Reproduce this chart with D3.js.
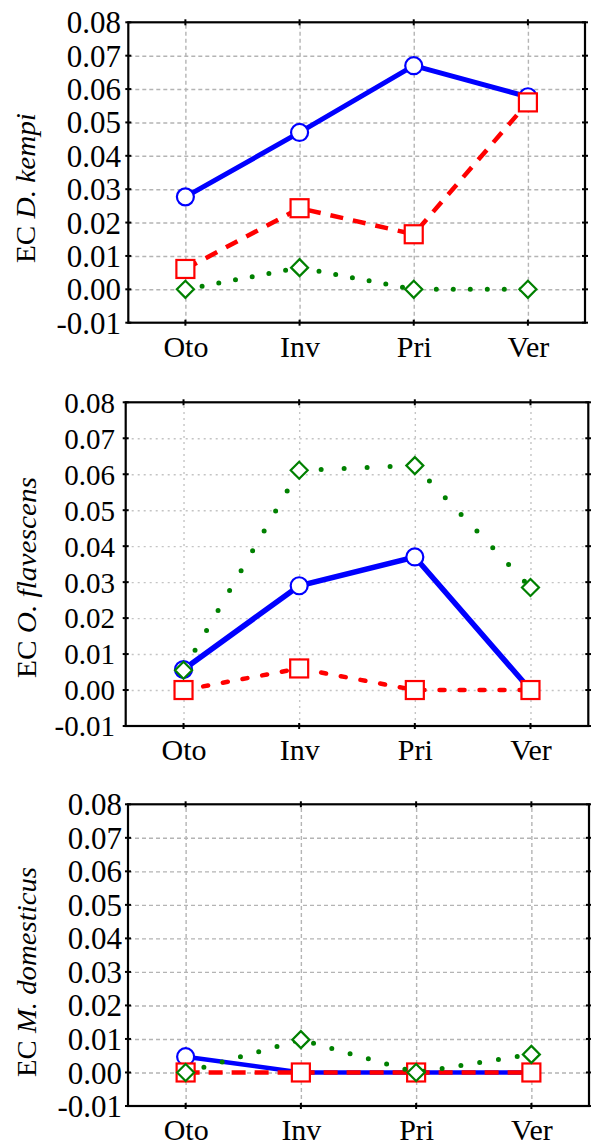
<!DOCTYPE html>
<html><head><meta charset="utf-8">
<script src="https://cdn.jsdelivr.net/npm/d3@7/dist/d3.min.js"></script>
<style>
html,body{margin:0;padding:0;background:#fff;}
svg{display:block;}
svg text{font-family:'Liberation Serif','Times New Roman',Times,serif;}
</style></head>
<body>
<svg id="c" width="591" height="1142"></svg>
<script>
// ---- data ----
const categories = ["Oto", "Inv", "Pri", "Ver"];
const yTicks = [-0.01, 0, 0.01, 0.02, 0.03, 0.04, 0.05, 0.06, 0.07, 0.08];
const yTickLabels = ["-0.01", "0.00", "0.01", "0.02", "0.03", "0.04", "0.05", "0.06", "0.07", "0.08"];
const panelSpecies = ["D. kempi", "O. flavescens", "M. domesticus"];

const kempiBlue  = [0.0277, 0.0470, 0.0670, 0.0577];
const kempiRed   = [0.0061, 0.0243, 0.0165, 0.0560];
const kempiGreen = [0.0000, 0.0065, 0.0000, 0.0000];

const flavBlue  = [0.0057, 0.0290, 0.0370, 0.0000];
const flavRed   = [0.0000, 0.0060, 0.0000, 0.0000];
const flavGreen = [0.0055, 0.0611, 0.0624, 0.0285];

const domBlue  = [0.0047, 0.0000, 0.0000, 0.0000];
const domRed   = [0.0000, 0.0000, 0.0000, 0.0000];
const domGreen = [0.0000, 0.0098, 0.0000, 0.0054];

// ---- layout / style ----
const FONT = "'Liberation Serif', 'Times New Roman', Times, serif";
const panels = [
  {box:{l:128.3, r:585, t:22.3, b:322.7}, series:[kempiBlue, kempiRed, kempiGreen],
   grid:"4,3", gridColor:"#b4b4b4", redDash:"13,10", redCap:"butt", greenGap:17, blueW:5,
   label:{x:35, y0:263, y1:113}, tickRight:121, tickFs:31},
  {box:{l:125.7, r:588.3, t:402.3, b:726}, series:[flavBlue, flavRed, flavGreen],
   grid:"2,4", gridColor:"#c4c4c4", redDash:"5,15", redCap:"round", greenGap:23, blueW:5.5,
   label:{x:36, y0:678, y1:477}, tickRight:115, tickFs:29},
  {box:{l:128, r:589, t:804.3, b:1106}, series:[domBlue, domRed, domGreen],
   grid:"4,3", gridColor:"#b4b4b4", redDash:"14,9", redCap:"butt", greenGap:19, blueW:4.5,
   label:{x:36, y0:1077, y1:867}, tickRight:122, tickFs:31}
];
const colors = ["#0000ff", "#ff0000", "#008000"];
const shapes = ["circle", "square", "diamond"];

const svg = d3.select("#c");

panels.forEach((p, pi) => {
  const {l, r, t, b} = p.box;
  const x = d3.scalePoint().domain(categories).range([l, r]).padding(0.5);
  const y = d3.scaleLinear().domain([-0.01, 0.08]).range([b, t]);
  const g = svg.append("g");

  // grid
  const gx = g.append("g").attr("transform", `translate(0,${b})`)
    .call(d3.axisBottom(x).tickSize(-(b - t)).tickFormat(""));
  const gy = g.append("g").attr("transform", `translate(${l},0)`)
    .call(d3.axisLeft(y).tickValues(yTicks.slice(1, -1)).tickSize(-(r - l)).tickFormat(""));
  [gx, gy].forEach(a => {
    a.select(".domain").remove();
    a.selectAll("line").attr("stroke", p.gridColor).attr("stroke-width", 1.4)
      .attr("stroke-dasharray", p.grid);
  });

  // frame
  g.append("rect").attr("x", l).attr("y", t).attr("width", r - l).attr("height", b - t)
    .attr("fill", "none").attr("stroke", "#000").attr("stroke-width", 2.2);

  // small ticks on all sides
  const tk = g.append("g").attr("stroke", "#000").attr("stroke-width", 2);
  yTicks.forEach(v => {
    tk.append("line").attr("x1", l - 3).attr("x2", l + 3).attr("y1", y(v)).attr("y2", y(v));
    tk.append("line").attr("x1", r - 3).attr("x2", r + 3).attr("y1", y(v)).attr("y2", y(v));
  });
  categories.forEach(c => {
    tk.append("line").attr("x1", x(c)).attr("x2", x(c)).attr("y1", t - 3).attr("y2", t + 3);
    tk.append("line").attr("x1", x(c)).attr("x2", x(c)).attr("y1", b - 3).attr("y2", b + 3);
  });

  // y tick labels
  const ya = g.append("g").attr("transform", `translate(${l},0)`)
    .call(d3.axisLeft(y).tickValues(yTicks).tickSize(0).tickFormat((d, i) => yTickLabels[i]));
  ya.attr("font-family", FONT).attr("font-size", p.tickFs);
  ya.select(".domain").remove();
  ya.selectAll("text").attr("x", p.tickRight - l).attr("dy", null).attr("y", p.tickFs * 0.34)
    .attr("text-anchor", "end").attr("fill", "#000")
    .style("font-family", FONT).style("font-size", p.tickFs + "px");

  // x tick labels
  const xa = g.append("g").attr("transform", `translate(0,${b})`)
    .call(d3.axisBottom(x).tickSize(0).tickPadding(0));
  xa.attr("font-family", FONT).attr("font-size", 30);
  xa.select(".domain").remove();
  xa.selectAll("text").attr("y", 34).attr("dy", null).attr("fill", "#000")
    .style("font-family", FONT).style("font-size", "30px");

  // y axis label
  const lab = g.append("text")
    .attr("transform", `translate(${p.label.x},${p.label.y0}) rotate(-90)`)
    .attr("x", 0).attr("y", 0)
    .attr("textLength", p.label.y0 - p.label.y1).attr("lengthAdjust", "spacingAndGlyphs")
    .style("font-family", FONT).style("font-size", "28px").attr("fill", "#000");
  lab.append("tspan").text("EC ");
  lab.append("tspan").style("font-style", "italic").text(panelSpecies[pi]);

  // series
  p.series.forEach((vals, si) => {
    const pts = categories.map((c, i) => [x(c), y(vals[i])]);
    const line = d3.line();
    const path = g.append("path").attr("d", line(pts)).attr("fill", "none")
      .attr("stroke", colors[si]);
    if (si === 0) path.attr("stroke-width", p.blueW);
    if (si === 1) path.attr("stroke-width", 4.5).attr("stroke-dasharray", p.redDash)
      .attr("stroke-linecap", p.redCap);
    if (si === 2) path.attr("stroke-width", 5).attr("stroke-dasharray", `0,${p.greenGap}`)
      .attr("stroke-linecap", "round");
    pts.forEach(([px, py]) => {
      let m;
      if (shapes[si] === "circle") {
        m = g.append("circle").attr("cx", px).attr("cy", py).attr("r", 8.5);
      } else if (shapes[si] === "square") {
        m = g.append("rect").attr("x", px - 9).attr("y", py - 9).attr("width", 18).attr("height", 18);
      } else {
        const s = 8.5;
        m = g.append("path").attr("d", `M${px},${py - s}L${px + s},${py}L${px},${py + s}L${px - s},${py}Z`);
      }
      m.attr("fill", "#fff").attr("stroke", colors[si]).attr("stroke-width", 2.2);
    });
  });
});
</script>
</body></html>
